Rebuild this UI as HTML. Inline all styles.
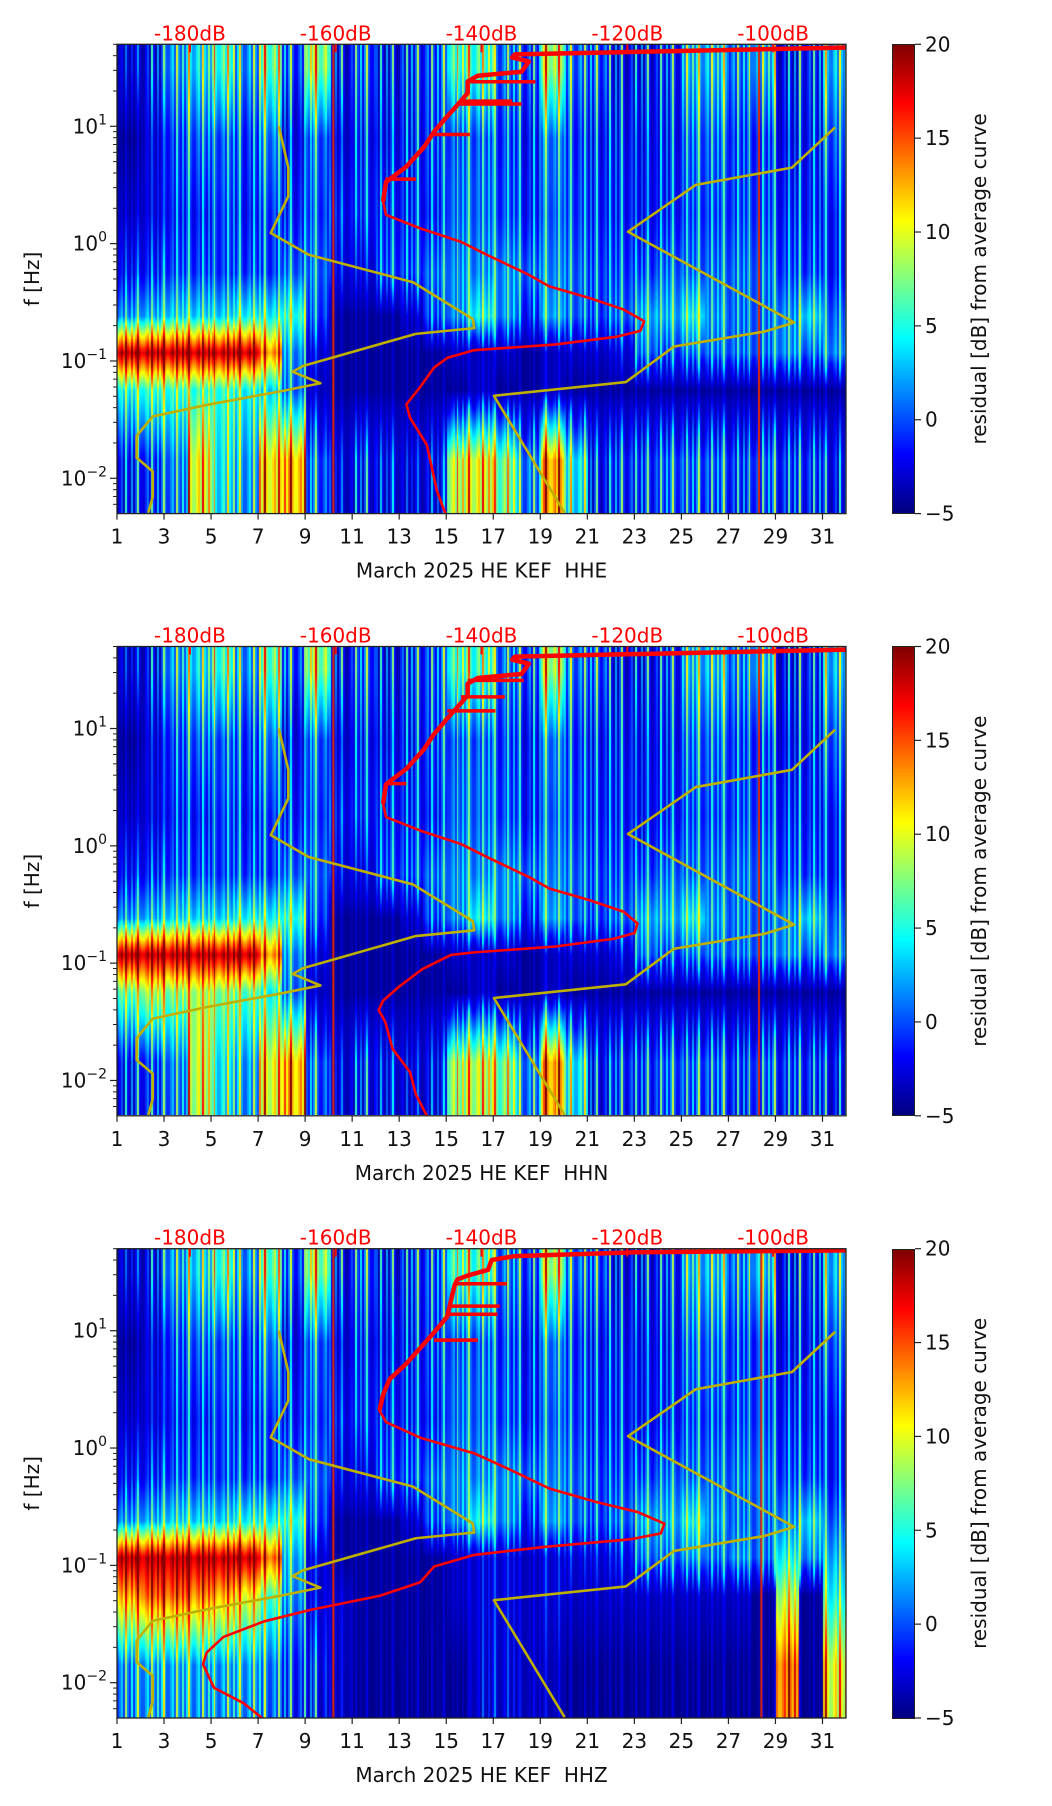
<!DOCTYPE html>
<html><head><meta charset="utf-8">
<style>
html,body{margin:0;padding:0;background:#fff;}
#root{position:relative;width:1052px;height:1806px;overflow:hidden;font-family:"DejaVu Sans","Liberation Sans",sans-serif;}
canvas{position:absolute;}
svg{position:absolute;left:0;top:0;}
.cb{position:absolute;width:23px;background:linear-gradient(to bottom,#7f0000 0%,#ff0000 12.5%,#ffff00 37.5%,#00ffff 62.5%,#0000ff 87.5%,#00007f 100%);border:1px solid #222;box-sizing:border-box;}
</style></head>
<body>
<div id="root">
<canvas id="hm0" width="729" height="469" style="left:117px;top:44px"></canvas>
<canvas id="hm1" width="729" height="469" style="left:117px;top:646px"></canvas>
<canvas id="hm2" width="729" height="469" style="left:117px;top:1249px"></canvas>
<div class="cb" style="left:892px;top:44px;height:470px"></div>
<div class="cb" style="left:892px;top:646px;height:470px"></div>
<div class="cb" style="left:892px;top:1249px;height:470px"></div>
<svg id="ov" width="1052" height="1806"></svg>
</div>
<script>
// ---------- data ----------
const days = [1,2,3,4,5,6,7,8,9,10,11,12,13,14,15,16,17,18,19,20,21,22,23,24,25,26,27,28,29,30,31];
const xTicks = [1,3,5,7,9,11,13,15,17,19,21,23,25,27,29,31];
const dbTicks = [-180,-160,-140,-120,-100];
const cbTicks = [-5,0,5,10,15,20];
const yDecades = [-2,-1,0,1];
const titles = ["March 2025 HE KEF\u00a0\u00a0HHE","March 2025 HE KEF\u00a0\u00a0HHN","March 2025 HE KEF\u00a0\u00a0HHZ"];
// residual dB per day, per frequency band (log10 f centres)
const bandLogF = [1.5,0.9,0.25,-0.25,-0.62,-0.93,-1.25,-1.85];
const band1 = [-2,0,4,6,8,4,9,2,10,0,2,0,1,2,8,8,3,2,11,3,2,0,0,1,5,5,3,5,0,1,5];
const band2 = [-4,-2,1,2,2,1,3,-1,2,-2,0,-1,0,1,2,2,1,0,3,1,0,0,-1,0,2,2,1,1,-1,0,2];
const band3 = [-3,-2,0,0,1,0,1,0,1,-1,0,0,0,0,2,2,1,0,2,1,0,0,-1,0,1,1,1,1,0,0,0];
const band4 = [-1,0,1,1,1,1,1,2,2,-2,-2,1,1,2,3,3,3,2,3,2,1,1,1,2,2,2,2,2,1,1,0];
const band5 = [3,4,5,5,5,6,6,7,1,-4,-4,-4,-3,1,3,6,3,0,4,2,1,2,4,4,6,3,2,2,3,5,2];
const hheBand6 = [20,20,20,20,20,20,15,3,-2,-4,-4,-4,-4,-4,-3,-3,-3,-4,-3,-3,-3,-2,2,1,2,2,2,2,3,2,3];
const hheBand7 = [6,7,7,7,7,6,5,2,-3,-4,-4,-4,-4,-4,-4,-3,-4,-4,-3,-4,-4,-4,-4,-4,-4,-4,-4,-4,-4,-4,-4];
const hheBand8 = [0,1,3,12,6,4,13,14,2,-2,0,-1,-2,-1,11,12,9,3,15,6,0,1,1,2,2,2,1,2,1,1,0];
const hhnBand6 = [20,20,20,20,20,20,15,3,-2,-4,-4,-4,-4,-4,-3,-3,-3,-4,-3,-3,-3,-2,2,1,2,2,2,2,3,2,3];
const hhnBand7 = [8,10,9,10,9,8,6,2,-3,-4,-4,-4,-4,-4,-4,-3,-4,-4,-3,-4,-4,-4,-4,-4,-4,-4,-4,-4,-4,-4,-4];
const hhnBand8 = [0,1,3,11,6,4,12,14,2,-2,0,-1,-2,-1,10,11,9,3,15,6,0,1,1,2,2,2,1,2,1,1,0];
const hhzBand6 = [20,20,20,20,20,20,16,4,-2,-4,-4,-4,-4,-4,-3,-2,-2,-3,-2,-2,-2,-1,2,2,3,2,3,2,6,3,4];
const hhzBand7 = [14,16,16,15,14,12,8,3,-2,-3,-4,-4,-4,-4,-3,-2,-2,-3,-2,-3,-3,-3,-3,-3,-3,-3,-3,-4,10,-4,6];
const hhzBand8 = [3,4,4,4,4,4,3,1,0,-3,-4,-4,-4,-4,-4,-2,-2,-3,-3,-4,-4,-4,-4,-4,-4,-4,-4,-4,16,-4,12];
const hheLines = [10.2,28.3];
const hhnLines = [10.2,28.3];
const hhzLines = [10.2,28.4];
// noise models (dB vs log10 f)
const nlnmDb = [-167.8,-166.5,-166.5,-168.9,-163.7,-149.4,-141.2,-141.0,-149.0,-164.5,-165.9,-162.1,-167.5,-177.7,-185.1,-187.3,-187.3,-185.1,-185.1,-185.7];
const nlnmLogF = [1.0,0.648,0.404,0.091,-0.095,-0.329,-0.642,-0.72,-0.769,-1.043,-1.092,-1.19,-1.258,-1.375,-1.473,-1.639,-1.825,-1.942,-2.157,-2.294];
const nhnmDb = [-91.5,-97.4,-110.6,-119.9,-97.1,-101.2,-113.6,-120.2,-138.3,-128.6];
const nhnmLogF = [0.99,0.648,0.501,0.101,-0.672,-0.75,-0.877,-1.18,-1.297,-2.294];
// median PSD curves
const hheDb = [-90,-135.4,-135.8,-133.5,-134.5,-140.5,-141.9,-141.9,-142.8,-144.7,-146.5,-147.9,-150.3,-153.1,-153.5,-153.1,-148.4,-142.8,-139.1,-133.5,-130.7,-125.2,-120.5,-117.7,-118.2,-121.4,-129.8,-141.0,-144.7,-146.5,-148.4,-150.3,-149.8,-147.5,-146.1,-144.7];
const hheLogF = [1.672,1.613,1.587,1.553,1.465,1.431,1.382,1.283,1.217,1.085,0.954,0.822,0.657,0.525,0.36,0.245,0.13,0.015,-0.1,-0.266,-0.364,-0.463,-0.562,-0.661,-0.743,-0.793,-0.859,-0.908,-0.974,-1.056,-1.221,-1.369,-1.485,-1.715,-2.111,-2.342];
const hhnDb = [-90,-135.4,-135.8,-133.5,-134.5,-140.5,-141.9,-141.9,-142.8,-144.7,-146.5,-147.9,-150.3,-153.1,-153.5,-153.1,-148.4,-142.8,-139.1,-133.5,-130.7,-125.2,-120.5,-118.6,-119.0,-121.9,-130.0,-141.0,-144.2,-148.1,-151.3,-153.5,-154.1,-153.2,-152.2,-149.8,-149.0,-147.5];
const hhnLogF = [1.672,1.613,1.587,1.553,1.465,1.431,1.382,1.283,1.217,1.085,0.954,0.822,0.657,0.525,0.36,0.245,0.13,0.015,-0.1,-0.266,-0.364,-0.463,-0.562,-0.661,-0.743,-0.793,-0.859,-0.908,-0.93,-1.05,-1.2,-1.32,-1.40,-1.5,-1.73,-1.93,-2.12,-2.3];
const hhzDb = [-90,-118.6,-135.4,-138.6,-139.1,-141.9,-143.3,-143.7,-144.2,-144.7,-146.5,-148.4,-150.3,-152.6,-153.5,-154.0,-153.1,-148.4,-141.0,-136.3,-130.7,-124.2,-118.6,-114.9,-115.4,-119.6,-131.6,-141.0,-146.5,-148.4,-154.0,-163.3,-169.8,-175.4,-177.7,-178.2,-176.7,-172.6,-169.3];
const hhzLogF = [1.685,1.669,1.636,1.603,1.519,1.47,1.437,1.386,1.253,1.12,0.986,0.853,0.72,0.587,0.454,0.32,0.221,0.088,-0.045,-0.178,-0.345,-0.461,-0.545,-0.645,-0.728,-0.778,-0.844,-0.911,-1.01,-1.144,-1.26,-1.377,-1.477,-1.61,-1.743,-1.843,-2.043,-2.176,-2.342];
// horizontal spike bars on PSD curves: log10 f, start dB, end dB
const hheSpikeLogF = [1.38,1.215,1.19,0.93,0.55];
const hheSpikeStart = [-141.9,-142.9,-142.9,-146.8,-153.2];
const hheSpikeEnd = [-132.6,-135.8,-134.5,-141.6,-149.0];
const hhnSpikeLogF = [1.41,1.27,1.15,0.53];
const hhnSpikeStart = [-141.9,-142.8,-144.7,-153.1];
const hhnSpikeEnd = [-134.2,-136.8,-138.1,-150.3];
const hhzSpikeLogF = [1.40,1.21,1.14,0.92];
const hhzSpikeStart = [-143.7,-144.2,-144.7,-146.5];
const hhzSpikeEnd = [-136.5,-137.5,-137.8,-140.5];

// ---------- layout ----------
const L=117, R=846, H=469.3, TOP0=44.3, STEP=602.2, LFTOP=1.699, LFBOT=-2.301;
const tops=[TOP0,TOP0+STEP,TOP0+2*STEP];
const plots=[
 {b6:hheBand6,b7:hheBand7,b8:hheBand8,lines:hheLines,db:hheDb,lf:hheLogF,sl:hheSpikeLogF,ss:hheSpikeStart,se:hheSpikeEnd,name:'hhe'},
 {b6:hhnBand6,b7:hhnBand7,b8:hhnBand8,lines:hhnLines,db:hhnDb,lf:hhnLogF,sl:hhnSpikeLogF,ss:hhnSpikeStart,se:hhnSpikeEnd,name:'hhn'},
 {b6:hhzBand6,b7:hhzBand7,b8:hhzBand8,lines:hhzLines,db:hhzDb,lf:hhzLogF,sl:hhzSpikeLogF,ss:hhzSpikeStart,se:hhzSpikeEnd,name:'hhz'}];
function xDay(d){return L+(d-1)*(R-L)/31;}
function xDb(db){return xDay(1+(db+190)*0.31);}
function yLf(top,lf){return top+(LFTOP-lf)*H/(LFTOP-LFBOT);}
function jet(v){let t=(v+5)/25;t=Math.max(0,Math.min(1,t));
 const c=x=>Math.max(0,Math.min(1,x));
 return [255*c(1.5-Math.abs(4*t-3)),255*c(1.5-Math.abs(4*t-2)),255*c(1.5-Math.abs(4*t-1))];}
const texture=[-2,-1,0,-2,3,-1,-2,1,-2,0,4,-1,-2];

plots.forEach((p,i)=>{
 const cv=document.getElementById('hm'+i), ctx=cv.getContext('2d');
 const W=cv.width, Hh=cv.height, img=ctx.createImageData(W,Hh);
 const bands=[band1,band2,band3,band4,band5,p.b6,p.b7,p.b8];
 for(let px=0;px<W;px++){
  const d=1+px*31/W; const di=Math.min(30,Math.floor(d-1));
  const tx=texture[Math.floor((d-1)*12)%texture.length];
  for(let py=0;py<Hh;py++){
   const lf=LFTOP-py*(LFTOP-LFBOT)/Hh;
   let v;
   if(lf>=bandLogF[0]) v=bands[0][di];
   else if(lf<=bandLogF[7]) v=bands[7][di];
   else{for(let k=0;k<7;k++){if(lf<=bandLogF[k]&&lf>=bandLogF[k+1]){const f=(bandLogF[k]-lf)/(bandLogF[k]-bandLogF[k+1]);v=bands[k][di]*(1-f)+bands[k+1][di]*f;break;}}}
   const amp=1.3+0.6*Math.max(0,lf-0.5)+0.6*Math.max(0,-1.3-lf);
   v+=tx*amp*Math.max(0.2,Math.min(1,(v+4)/4));
   const c=jet(v), o=(py*W+px)*4;
   img.data[o]=c[0];img.data[o+1]=c[1];img.data[o+2]=c[2];img.data[o+3]=255;
  }
 }
 ctx.putImageData(img,0,0);
 p.lines.forEach(d=>{ctx.fillStyle='rgb(230,40,0)';ctx.fillRect(xDay(d)-L-1,0,2,Hh);});
});

// ---------- SVG overlay ----------
const NS='http://www.w3.org/2000/svg', svg=document.getElementById('ov');
function el(tag,attrs,parent){const e=document.createElementNS(NS,tag);for(const k in attrs)e.setAttribute(k,attrs[k]);(parent||svg).appendChild(e);return e;}
const defs=el('defs',{});
plots.forEach((p,i)=>{
 const top=tops[i], bot=top+H;
 const g=el('g',{});
 
 
 const cp=el('clipPath',{id:'clip'+i},defs); el('rect',{x:L,y:top,width:R-L,height:H},cp);
 const lg=el('g',{'clip-path':'url(#clip'+i+')'},g);
 const nl=el('polyline',{points:nlnmDb.map((d,k)=>xDb(d)+','+yLf(top,nlnmLogF[k])).join(' '),fill:'none',stroke:'#bfb000','stroke-width':2.6,'stroke-linejoin':'round'},lg);
 
 
 const nh=el('polyline',{points:nhnmDb.map((d,k)=>xDb(d)+','+yLf(top,nhnmLogF[k])).join(' '),fill:'none',stroke:'#bfb000','stroke-width':2.6,'stroke-linejoin':'round'},lg);
 
 
 const rl=el('polyline',{points:p.db.map((d,k)=>xDb(d)+','+yLf(top,p.lf[k])).join(' '),fill:'none',stroke:'#ff0000','stroke-width':2.6,'stroke-linejoin':'round'},lg);
 
 
 const up=[];p.db.forEach((d,k)=>{if(p.lf[k]>0.3)up.push(xDb(d)+','+yLf(top,p.lf[k]));});
 const ru=el('polyline',{points:up.join(' '),fill:'none',stroke:'#ff0000','stroke-width':4.5,'stroke-linejoin':'round'},lg);
 
 
 p.sl.forEach((lf,k)=>{
  const s=el('line',{x1:xDb(p.ss[k]),x2:xDb(p.se[k]),y1:yLf(top,lf),y2:yLf(top,lf),stroke:'#ff0000','stroke-width':3.5},lg);
  
  
 });
 el('rect',{x:L,y:top,width:R-L,height:H,fill:'none',stroke:'#222','stroke-width':1.3},g);
 xTicks.forEach(t=>{const x=xDay(t);el('line',{x1:x,x2:x,y1:bot,y2:bot+6,stroke:'#222','stroke-width':1.2},g);
  const tx=el('text',{x:x,y:bot+30,'font-size':20,'text-anchor':'middle',fill:'#111'},g);tx.textContent=t;
  
  });
 dbTicks.forEach(t=>{const x=xDb(t);el('line',{x1:x,x2:x,y1:top,y2:top+8,stroke:'#ff0000','stroke-width':2},g);
  const tx=el('text',{x:x,y:top-4,'font-size':20,'text-anchor':'middle',fill:'#ff0000'},g);tx.textContent=t+'dB';
  
  });
 for(let d=-3;d<=1;d++){for(let m=2;m<=9;m++){const lf=d+Math.log10(m);if(lf<LFBOT||lf>LFTOP)continue;const y=yLf(top,lf);el('line',{x1:L-4,x2:L,y1:y,y2:y,stroke:'#222','stroke-width':1},g);}}
 yDecades.forEach(d=>{const y=yLf(top,d);el('line',{x1:L-7,x2:L,y1:y,y2:y,stroke:'#222','stroke-width':1.2},g);
  const tx=el('text',{x:L-10,y:y+7,'font-size':20,'text-anchor':'end',fill:'#111'},g);
  
  
  const a=el('tspan',{},tx);a.textContent='10';
  const b=el('tspan',{dy:-9,'font-size':14},tx);b.textContent=(d<0?'\u2212':'')+Math.abs(d);});
 const yl=el('text',{x:0,y:0,'font-size':20,'text-anchor':'middle',fill:'#111',transform:`translate(39,${top+H/2}) rotate(-90)`},g);
 yl.textContent='f [Hz]';
 
 
 const xl=el('text',{x:(L+R)/2,y:bot+64,'font-size':20,'text-anchor':'middle',fill:'#111'},g);
 xl.textContent=titles[i];
 
 
 cbTicks.forEach(t=>{const y=top+(20-t)/25*H;el('line',{x1:915,x2:921,y1:y,y2:y,stroke:'#222','stroke-width':1.2},g);
  const tx=el('text',{x:925,y:y+7,'font-size':20,fill:'#111'},g);tx.textContent=(t<0?'\u2212':'')+Math.abs(t);
  
  });
 const cl=el('text',{x:0,y:0,'font-size':20,'text-anchor':'middle',fill:'#111',transform:`translate(986,${top+H/2}) rotate(-90)`},g);
 cl.textContent='residual [dB] from average curve';
 
 
});
</script>
</body></html>
